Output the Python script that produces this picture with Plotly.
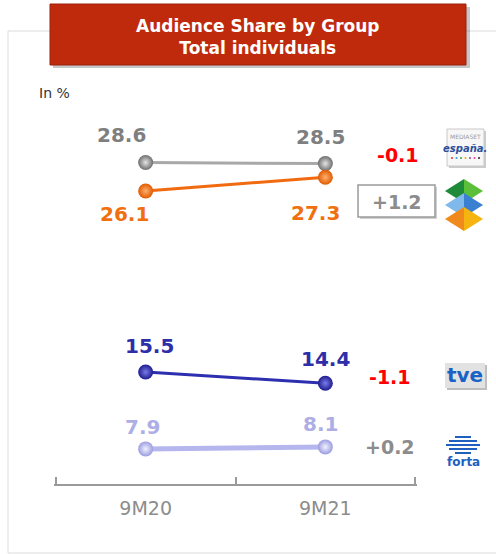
import plotly.graph_objects as go

W, H = 496, 554

periods = ['9M20', '9M21']
mediaset = [28.6, 28.5]
atresmedia = [26.1, 27.3]
tve = [15.5, 14.4]
forta = [7.9, 8.1]


def px(x):
    return x / W


def py(y):
    return 1 - y / H


def signed(v):
    return f'{v:+.1f}'


xs = list(range(len(periods)))
fig = go.Figure()

# (values, axis, line colour, width, sphere edge, sphere centre, label colour, label shifts)
series = [
    (mediaset, 'y2', '#a8a8a8', 3, '#6e6e6e', '#e4e4e4', '#7f7f7f', [(-24, 27), (-5, 27)]),
    (atresmedia, 'y2', '#f26a0f', 3, '#e05a00', '#ffb070', '#f07010', [(-21, -23), (-10, -36)]),
    (tve, 'y', '#2e2eb0', 3, '#1c1c90', '#7a7ae8', '#2e2ea8', [(4, 26), (0, 24)]),
    (forta, 'y', '#b6b6ee', 5, '#9c9ce0', '#f2f2ff', '#aeaee6', [(-3, 22), (-5, 23)]),
]

for vals, ax, lc, lw, c0, c1, tc, shifts in series:
    fig.add_trace(go.Scatter(
        x=xs, y=vals, yaxis=ax, mode='lines+markers',
        line=dict(color=lc, width=lw),
        marker=dict(size=15, color=c0, gradient=dict(type='radial', color=c1),
                    line=dict(width=0)),
        hoverinfo='skip', showlegend=False,
    ))
    for p, v, (dx, dy) in zip(xs, vals, shifts):
        fig.add_annotation(x=p, y=v, yref=ax, text=f'<b>{v:.1f}</b>', showarrow=False,
                           xshift=dx, yshift=dy, xanchor='center', yanchor='middle',
                           font=dict(size=20, color=tc, family='DejaVu Sans'))

# category labels on an overlaid axis
fig.add_trace(go.Scatter(x=xs, y=[None, None], xaxis='x2', showlegend=False, hoverinfo='skip'))

shapes = []
# panel border (open on the right)
for x0, y0, x1, y1 in [(8, 31, 496, 31), (8, 553, 496, 553), (8, 31, 8, 553)]:
    shapes.append(dict(type='line', xref='paper', yref='paper', x0=px(x0), x1=px(x1),
                       y0=py(y0), y1=py(y1), line=dict(color='#dcdcdc', width=1), layer='below'))
# title box with shadow
shapes.append(dict(type='rect', xref='paper', yref='paper', x0=px(53), x1=px(470),
                   y0=py(68), y1=py(7), line=dict(width=0), fillcolor='rgba(0,0,0,0.22)'))
shapes.append(dict(type='rect', xref='paper', yref='paper', x0=px(50), x1=px(466),
                   y0=py(65), y1=py(4), line=dict(color='#9a2008', width=1),
                   fillcolor='#c02a0c'))
# +1.2 box with shadow
shapes.append(dict(type='rect', xref='paper', yref='paper', x0=px(360), x1=px(437),
                   y0=py(219), y1=py(187), line=dict(width=0), fillcolor='rgba(0,0,0,0.18)'))
shapes.append(dict(type='rect', xref='paper', yref='paper', x0=px(358), x1=px(435),
                   y0=py(217), y1=py(185), line=dict(color='#9a9a9a', width=1.5),
                   fillcolor='white'))

# mediaset logo
shapes.append(dict(type='rect', xref='paper', yref='paper', x0=px(449), x1=px(486),
                   y0=py(168), y1=py(131), line=dict(width=0), fillcolor='rgba(0,0,0,0.2)'))
shapes.append(dict(type='rect', xref='paper', yref='paper', x0=px(447), x1=px(484),
                   y0=py(166), y1=py(129), line=dict(color='#c8c8c8', width=1),
                   fillcolor='#f7f7f7'))
for i, dc in enumerate(['#e4352b', '#2a9df4', '#2ea44f', '#f2a900', '#8e44ad', '#e84393', '#222222']):
    cx = 452 + i * 4.5
    shapes.append(dict(type='circle', xref='paper', yref='paper', x0=px(cx - 1), x1=px(cx + 1),
                       y0=py(159), y1=py(157), line=dict(width=0), fillcolor=dc))


def tri(points, color):
    d = 'M ' + ' L '.join(f'{px(a)},{py(b)}' for a, b in points) + ' Z'
    return dict(type='path', xref='paper', yref='paper', path=d, line=dict(width=0), fillcolor=color)


# atresmedia logo: three stacked diamonds
for cy, left, right in [(191, '#1e8a3a', '#5cbf3a'), (205, '#7fb8ea', '#3b7fd0'), (219, '#f08a1c', '#f5b40f')]:
    shapes.append(tri([(445, cy), (464, cy - 12), (464, cy + 12)], left))
    shapes.append(tri([(464, cy - 12), (483, cy), (464, cy + 12)], right))

# tve logo
shapes.append(dict(type='rect', xref='paper', yref='paper', x0=px(447), x1=px(487),
                   y0=py(390), y1=py(365), line=dict(width=0), fillcolor='rgba(0,0,0,0.25)'))
shapes.append(dict(type='rect', xref='paper', yref='paper', x0=px(445), x1=px(485),
                   y0=py(388), y1=py(363), line=dict(width=0), fillcolor='#e2e2e2'))

# forta logo lines
for ly, half in [(437, 8), (441, 14), (445, 17), (449, 14), (453, 8)]:
    shapes.append(dict(type='line', xref='paper', yref='paper', x0=px(463 - half), x1=px(463 + half),
                       y0=py(ly), y1=py(ly), line=dict(color='#1f5fbf', width=2)))

fig.update_layout(shapes=shapes)

texts = [
    ('<b>Audience Share by Group<br>Total individuals</b>', 258, 37, 17, 'white'),
    ('In %', 54, 93, 14, '#333333'),
    ('<b>' + signed(mediaset[1] - mediaset[0]) + '</b>', 398, 155, 19, '#ff0000'),
    ('<b>' + signed(atresmedia[1] - atresmedia[0]) + '</b>', 397, 202, 19, '#8c8c8c'),
    ('<b>' + signed(tve[1] - tve[0]) + '</b>', 390, 377, 19, '#ff0000'),
    ('<b>' + signed(forta[1] - forta[0]) + '</b>', 390, 447, 19, '#8c8c8c'),
    ('MEDIASET', 465, 137, 6, '#9a9a9a'),
    ('<i><b>españa.</b></i>', 465, 148, 10, '#2c4f9a'),
    ('<b>tve</b>', 465, 375, 20, '#1a63c6'),
    ('<b>forta</b>', 463, 462, 12, '#1f5fbf'),
]
for t, x, y, s, c in texts:
    fig.add_annotation(xref='paper', yref='paper', x=px(x), y=py(y), text=t, showarrow=False,
                       xanchor='center', yanchor='middle',
                       font=dict(size=s, color=c, family='DejaVu Sans'))

xrange = [-0.51, len(periods) - 0.49]
fig.update_layout(
    width=W, height=H,
    margin=dict(l=0, r=0, t=0, b=0),
    paper_bgcolor='white', plot_bgcolor='rgba(0,0,0,0)',
    font=dict(family='DejaVu Sans'),
    xaxis=dict(domain=[px(54), px(417)], range=xrange,
               tickvals=[i - 0.5 for i in range(len(periods) + 1)], showticklabels=False,
               ticks='inside', ticklen=7, tickwidth=2, tickcolor='#9a9a9a',
               showline=True, linecolor='#9a9a9a', linewidth=2, showgrid=False, zeroline=False,
               anchor='y'),
    xaxis2=dict(domain=[px(54), px(417)], range=xrange, overlaying='x',
                anchor='y', side='bottom', tickvals=xs, ticktext=periods, ticks='',
                showline=False, showgrid=False, zeroline=False,
                tickfont=dict(size=19, color='#8c8c8c'), ticklabelstandoff=11),
    yaxis=dict(domain=[py(484), py(330)], range=[4.43, 19.66], visible=False),
    yaxis2=dict(domain=[py(230), py(120)], range=[22.68, 32.32], visible=False, anchor='x'),
)

# drop the default page margin so the figure fills the window exactly
fig.write_html('out.html', config={'displayModeBar': False},
               post_script="document.body.style.margin='0';")
